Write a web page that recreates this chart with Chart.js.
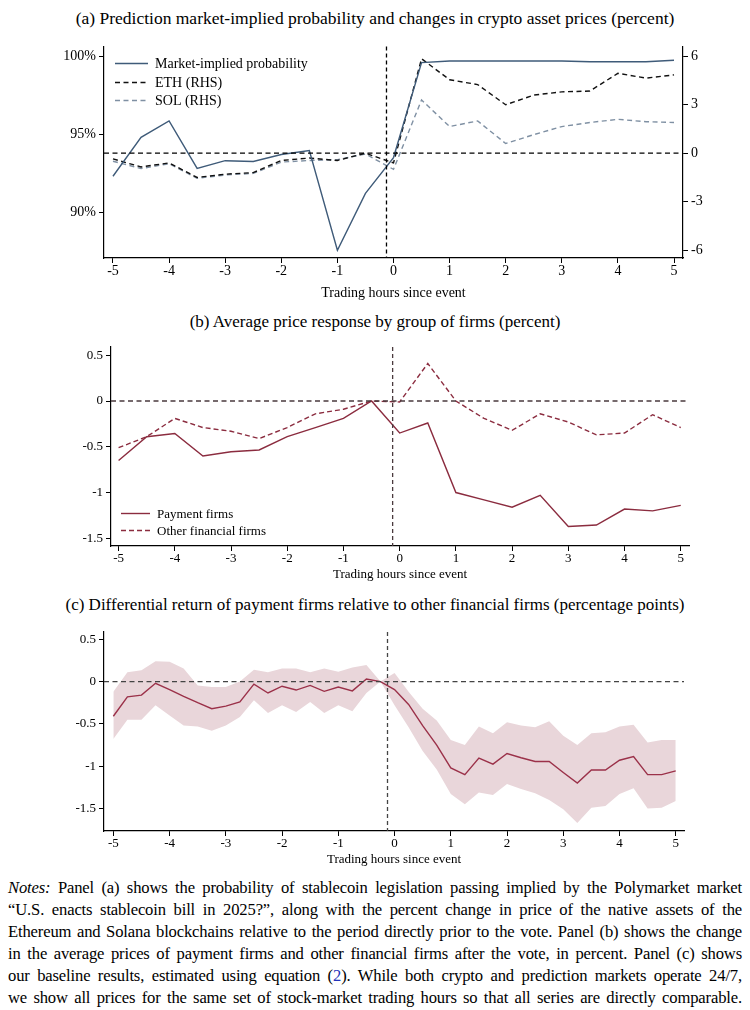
<!DOCTYPE html>
<html>
<head>
<meta charset="utf-8">
<script src="https://cdn.jsdelivr.net/npm/chart.js@4.4.1/dist/chart.umd.min.js"></script>
<style>
body { margin:0; background:#fff; width:750px; height:1010px; position:relative; overflow:hidden; font-family:"Liberation Serif", serif; color:#000; }
.ttl { position:absolute; left:0; width:750px; text-align:center; font-size:17px; line-height:20px; }
.box { position:absolute; left:0; width:750px; }
.notes { position:absolute; left:8px; width:734px; top:877px; font-size:16.6px; line-height:22px; letter-spacing:-0.15px; }
.notes div { text-align:justify; text-align-last:justify; white-space:nowrap; }
.blue { color:#2233bb; }
</style>
</head>
<body>
<div class="ttl" style="top:8px;font-size:17.5px">(a) Prediction market-implied probability and changes in crypto asset prices (percent)</div>
<div class="box" style="top:35px"><canvas id="chartA" width="750" height="270"></canvas></div>
<div class="ttl" style="top:312px">(b) Average price response by group of firms (percent)</div>
<div class="box" style="top:335px"><canvas id="chartB" width="750" height="250"></canvas></div>
<div class="ttl" style="top:595px">(c) Differential return of payment firms relative to other financial firms (percentage points)</div>
<div class="box" style="top:620px"><canvas id="chartC" width="750" height="250"></canvas></div>
<div class="notes">
<div><i>Notes:</i> Panel (a) shows the probability of stablecoin legislation passing implied by the Polymarket market</div>
<div>“U.S. enacts stablecoin bill in 2025?”, along with the percent change in price of the native assets of the</div>
<div>Ethereum and Solana blockchains relative to the period directly prior to the vote. Panel (b) shows the change</div>
<div>in the average prices of payment firms and other financial firms after the vote, in percent. Panel (c) shows</div>
<div>our baseline results, estimated using equation (<span class="blue">2</span>). While both crypto and prediction markets operate 24/7,</div>
<div>we show all prices for the same set of stock-market trading hours so that all series are directly comparable.</div>
</div>
<script>
// half-hour steps for panels a and b
const hoursHalf = [-5,-4.5,-4,-3.5,-3,-2.5,-2,-1.5,-1,-0.5,0,0.5,1,1.5,2,2.5,3,3.5,4,4.5,5];
// quarter-hour steps for panel c
const hoursQuarter = [-5,-4.75,-4.5,-4.25,-4,-3.75,-3.5,-3.25,-3,-2.75,-2.5,-2.25,-2,-1.75,-1.5,-1.25,-1,-0.75,-0.5,-0.25,
  0,0.25,0.5,0.75,1,1.25,1.5,1.75,2,2.25,2.5,2.75,3,3.25,3.5,3.75,4,4.25,4.5,4.75,5];
const eventHour = -0.125;

const xTicks = [-5,-4,-3,-2,-1,0,1,2,3,4,5];
const probTicks = [90,95,100];
const rhsTicks = [-6,-3,0,3,6];
const effectTicks = [-1.5,-1,-0.5,0,0.5];

// panel (a)
const marketProb = [92.3,94.8,95.85,92.8,93.3,93.25,93.7,93.95,87.55,91.2,93.5,99.6,99.7,99.7,99.7,99.7,99.7,99.65,99.65,99.65,99.75];
const ethChange = [-0.35,-0.85,-0.6,-1.5,-1.3,-1.2,-0.45,-0.3,-0.45,0,-0.6,5.85,4.55,4.25,3.0,3.6,3.8,3.85,4.95,4.65,4.85];
const solChange = [-0.5,-0.95,-0.65,-1.55,-1.35,-1.25,-0.55,-0.45,-0.4,-0.05,-1.0,3.3,1.65,2.0,0.6,1.15,1.65,1.9,2.1,1.95,1.9];

// panel (b)
const paymentFirms = [-0.65,-0.39,-0.355,-0.6,-0.555,-0.535,-0.39,-0.29,-0.19,0,-0.35,-0.24,-1.0,-1.08,-1.16,-1.03,-1.37,-1.355,-1.18,-1.2,-1.14];
const otherFirms = [-0.51,-0.39,-0.19,-0.29,-0.33,-0.41,-0.29,-0.14,-0.09,0,-0.01,0.41,0,-0.19,-0.32,-0.14,-0.23,-0.37,-0.35,-0.15,-0.29];

// panel (c)
const diffReturn = [-0.41,-0.18,-0.16,-0.02,-0.095,-0.175,-0.25,-0.32,-0.29,-0.24,-0.03,-0.135,-0.055,-0.1,-0.045,-0.115,-0.065,-0.11,0.03,0,
  -0.095,-0.27,-0.52,-0.75,-1.02,-1.1,-0.905,-0.975,-0.85,-0.9,-0.945,-0.945,-1.075,-1.2,-1.045,-1.045,-0.93,-0.885,-1.1,-1.1,-1.055];
const diffUpper = [-0.12,0.11,0.135,0.24,0.235,0.155,-0.045,-0.065,-0.065,0,0.14,0.11,0.155,0.155,0.11,0.155,0.115,0.165,0.195,0,
  0.1,-0.12,-0.32,-0.46,-0.69,-0.75,-0.53,-0.61,-0.48,-0.52,-0.54,-0.47,-0.64,-0.75,-0.61,-0.6,-0.53,-0.51,-0.72,-0.69,-0.69];
const diffLower = [-0.68,-0.45,-0.45,-0.28,-0.4,-0.52,-0.53,-0.58,-0.52,-0.42,-0.22,-0.37,-0.28,-0.36,-0.24,-0.37,-0.28,-0.35,-0.135,0,
  -0.28,-0.54,-0.82,-1.04,-1.33,-1.45,-1.31,-1.34,-1.21,-1.27,-1.32,-1.4,-1.51,-1.67,-1.49,-1.47,-1.33,-1.26,-1.5,-1.49,-1.41];

const serif = "Liberation Serif";

function pts(xs, ys) {
    return xs.map(function (x, i) { return { x: x, y: ys[i] }; });
}

function fixTicks(list) {
    return function (scale) {
        scale.ticks = list.map(function (v) { return { value: v }; });
    };
}

// dashed zero line and event line
const refLines = {
    id: "refLines",
    afterDatasetsDraw(chart, args, opts) {
        const ctx = chart.ctx;
        const a = chart.chartArea;
        ctx.save();
        ctx.lineWidth = 1.3;
        ctx.strokeStyle = opts.color;
        ctx.setLineDash([5, 3.5]);
        const y = chart.scales[opts.yScale].getPixelForValue(0);
        ctx.beginPath();
        ctx.moveTo(a.left, y);
        ctx.lineTo(a.right, y);
        ctx.stroke();
        ctx.setLineDash([4, 3]);
        const x = chart.scales.x.getPixelForValue(eventHour);
        ctx.beginPath();
        ctx.moveTo(x, a.top);
        ctx.lineTo(x, a.bottom);
        ctx.stroke();
        ctx.restore();
    }
};

// legend drawn inside the plot
const insideLegend = {
    id: "insideLegend",
    afterDraw(chart, args, opts) {
        if (!opts.items) return;
        const ctx = chart.ctx;
        ctx.save();
        ctx.font = opts.size + "px '" + serif + "'";
        ctx.textBaseline = "middle";
        ctx.fillStyle = "#000";
        opts.items.forEach(function (it) {
            const ds = chart.data.datasets[it.index];
            ctx.strokeStyle = ds.borderColor;
            ctx.lineWidth = ds.borderWidth;
            ctx.setLineDash(ds.borderDash || []);
            ctx.beginPath();
            ctx.moveTo(opts.x0, it.y);
            ctx.lineTo(opts.x1, it.y);
            ctx.stroke();
            ctx.fillText(ds.label, opts.textX, it.y + 1);
        });
        ctx.restore();
    }
};

function xAxis(min, max, height, size) {
    return {
        type: "linear",
        min: min,
        max: max,
        afterBuildTicks: fixTicks(xTicks),
        afterFit: function (s) { s.height = height; },
        grid: { drawOnChartArea: false, drawTicks: true, tickLength: 5, color: "#000" },
        border: { display: true, color: "#000", width: 1.2 },
        ticks: { color: "#000", padding: 0, maxRotation: 0, font: { family: serif, size: size },
            callback: function (v) { return String(v); } },
        title: { display: true, text: "Trading hours since event", color: "#000",
            font: { family: serif, size: size }, padding: { top: 0, bottom: 3 } }
    };
}

function yAxis(min, max, list, width, pos, size, fmt) {
    return {
        type: "linear",
        position: pos,
        min: min,
        max: max,
        afterBuildTicks: fixTicks(list),
        afterFit: function (s) { s.width = width; },
        grid: { drawOnChartArea: false, drawTicks: true, tickLength: 5, color: "#000" },
        border: { display: true, color: "#000", width: 1.2 },
        ticks: { color: "#000", padding: 3, font: { family: serif, size: size }, callback: fmt }
    };
}

const baseOptions = {
    responsive: false,
    animation: false,
    elements: { point: { radius: 0 }, line: { tension: 0 } }
};

function lineSet(label, xs, ys, color, dash, yAxisID) {
    return {
        label: label,
        data: pts(xs, ys),
        borderColor: color,
        borderWidth: 1.4,
        borderDash: dash,
        fill: false,
        pointRadius: 0,
        order: 0,
        yAxisID: yAxisID || "y"
    };
}

// panel (a)
new Chart(document.getElementById("chartA"), {
    type: "line",
    data: {
        datasets: [
            lineSet("Market-implied probability", hoursHalf, marketProb, "#3f5b79", [], "y"),
            lineSet("ETH (RHS)", hoursHalf, ethChange, "#111111", [5, 3.5], "y2"),
            lineSet("SOL (RHS)", hoursHalf, solChange, "#7f90a3", [5, 3.5], "y2")
        ]
    },
    options: Object.assign({}, baseOptions, {
        layout: { autoPadding: false, padding: { top: 10, left: 0, right: 0, bottom: 0 } },
        scales: {
            x: xAxis(-5.16, 5.16, 47, 14),
            y: yAxis(87.05, 100.64, probTicks, 104, "left", 14, function (v) { return v + "%"; }),
            y2: yAxis(-6.49, 6.615, rhsTicks, 67, "right", 14, function (v) { return String(v); })
        },
        plugins: {
            legend: { display: false },
            tooltip: { enabled: false },
            refLines: { color: "#000", yScale: "y2" },
            insideLegend: { size: 14, x0: 115, x1: 148, textX: 155, items: [
                { index: 0, y: 28.5 }, { index: 1, y: 47.5 }, { index: 2, y: 65.5 }] }
        }
    }),
    plugins: [refLines, insideLegend]
});

// panel (b)
new Chart(document.getElementById("chartB"), {
    type: "line",
    data: {
        datasets: [
            lineSet("Payment firms", hoursHalf, paymentFirms, "#8b2c3f", []),
            lineSet("Other financial firms", hoursHalf, otherFirms, "#8b2c3f", [5, 3])
        ]
    },
    options: Object.assign({}, baseOptions, {
        layout: { autoPadding: false, padding: { top: 12, left: 0, right: 61, bottom: 0 } },
        scales: {
            x: xAxis(-5.135, 5.147, 39, 13),
            y: yAxis(-1.584, 0.59, effectTicks, 111, "left", 13, function (v) { return String(v); })
        },
        plugins: {
            legend: { display: false },
            tooltip: { enabled: false },
            refLines: { color: "#4a3a3e", yScale: "y" },
            insideLegend: { size: 13, x0: 121, x1: 150, textX: 157, items: [
                { index: 0, y: 178.5 }, { index: 1, y: 195.5 }] }
        }
    }),
    plugins: [refLines, insideLegend]
});

// panel (c)
new Chart(document.getElementById("chartC"), {
    type: "line",
    data: {
        datasets: [
            { label: "upper", data: pts(hoursQuarter, diffUpper), borderWidth: 0, borderColor: "rgba(0,0,0,0)",
              backgroundColor: "#e9d6da", fill: "+1", pointRadius: 0, order: 2 },
            { label: "lower", data: pts(hoursQuarter, diffLower), borderWidth: 0, borderColor: "rgba(0,0,0,0)",
              fill: false, pointRadius: 0, order: 2 },
            lineSet("Differential return", hoursQuarter, diffReturn, "#9b3149", [])
        ]
    },
    options: Object.assign({}, baseOptions, {
        layout: { autoPadding: false, padding: { top: 12, left: 0, right: 66, bottom: 0 } },
        scales: {
            x: xAxis(-5.166, 5.147, 39, 13),
            y: yAxis(-1.766, 0.586, effectTicks, 104, "left", 13, function (v) { return String(v); })
        },
        plugins: {
            legend: { display: false },
            tooltip: { enabled: false },
            filler: { propagate: false },
            refLines: { color: "#444", yScale: "y" }
        }
    }),
    plugins: [refLines]
});
</script>
</body>
</html>
